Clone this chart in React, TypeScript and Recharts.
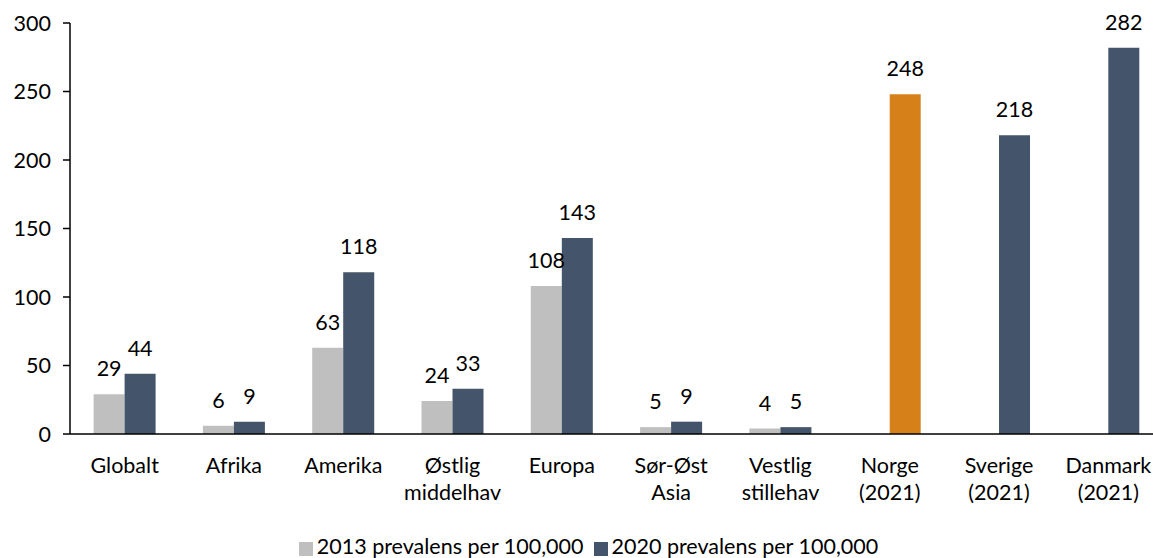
import React from 'react';
import { BarChart, Bar, XAxis, YAxis, Legend, LabelList, Cell } from 'recharts';

// categories and values
const categories = [
  'Globalt',
  'Afrika',
  'Amerika',
  'Østlig\nmiddelhav',
  'Europa',
  'Sør-Øst\nAsia',
  'Vestlig\nstillehav',
  'Norge\n(2021)',
  'Sverige\n(2021)',
  'Danmark\n(2021)',
];
const prev2013 = [29, 6, 63, 24, 108, 5, 4, null, null, null];
const prev2020 = [44, 9, 118, 33, 143, 9, 5, 248, 218, 282];
const yTicks = [0, 50, 100, 150, 200, 250, 300];
const boundaryTicks = [0, 1, 2, 3, 4, 5, 6, 7, 8, 9, 10];
const highlight = 'Norge\n(2021)';

const GRAY = '#bfbfbf';
const SLATE = '#44546a';
const ORANGE = '#d68019';
const FONT = 21.5;

const data = categories.map((name, i) => ({
  name,
  y2013: prev2013[i],
  y2020: prev2020[i],
}));

const CategoryTick = (props: any) => {
  const { x, y, payload } = props;
  const lines = String(payload.value).split('\n');
  return (
    <text x={x} y={y} textAnchor="middle" fill="#000" fontSize={FONT}>
      {lines.map((line, i) => (
        <tspan key={i} x={x} dy={i === 0 ? 32 : 27}>
          {line}
        </tspan>
      ))}
    </text>
  );
};

const legendText = (value: string) => <span style={{ color: '#000' }}>{value}</span>;

const App = () => {
  return (
    <div
      style={{
        position: 'absolute',
        left: 0,
        top: 0,
        width: 1153,
        height: 558,
        overflow: 'hidden',
        background: '#fff',
        fontFamily: 'Lato, sans-serif',
      }}
    >
      <BarChart
        width={1175}
        height={558}
        data={data}
        margin={{ top: 23, right: 12, left: 0, bottom: 0 }}
        barCategoryGap="21.6%"
        barGap={0}
      >
        <XAxis
          xAxisId="bounds"
          type="number"
          domain={[0, 10]}
          ticks={boundaryTicks}
          tick={false}
          height={7}
          tickSize={7}
          stroke="#000"
          axisLine={{ stroke: '#000', strokeWidth: 1.5 }}
          tickLine={{ stroke: '#000', strokeWidth: 1.5 }}
          allowDataOverflow
        />
        <XAxis
          xAxisId="cat"
          dataKey="name"
          interval={0}
          height={93}
          axisLine={false}
          tickLine={false}
          tickSize={0}
          tickMargin={0}
          tick={<CategoryTick />}
        />
        <YAxis
          width={70}
          domain={[0, 300]}
          ticks={yTicks}
          tickSize={7}
          tickMargin={12}
          axisLine={{ stroke: '#000', strokeWidth: 1.5 }}
          tickLine={{ stroke: '#000', strokeWidth: 1.5 }}
          tick={{ fill: '#000', fontSize: FONT }}
        />
        <Legend
          verticalAlign="bottom"
          align="center"
          iconType="square"
          iconSize={14}
          formatter={legendText}
          wrapperStyle={{ fontSize: FONT, height: 24, lineHeight: '24px', left: 12 }}
        />
        <Bar
          xAxisId="cat"
          dataKey="y2013"
          name="2013 prevalens per 100,000"
          fill={GRAY}
          isAnimationActive={false}
        >
          <LabelList dataKey="y2013" position="top" offset={18} fill="#000" fontSize={FONT} />
        </Bar>
        <Bar
          xAxisId="cat"
          dataKey="y2020"
          name="2020 prevalens per 100,000"
          fill={SLATE}
          isAnimationActive={false}
        >
          {data.map((d) => (
            <Cell key={d.name} fill={d.name === highlight ? ORANGE : SLATE} />
          ))}
          <LabelList dataKey="y2020" position="top" offset={18} fill="#000" fontSize={FONT} />
        </Bar>
      </BarChart>
    </div>
  );
};

export default App;
